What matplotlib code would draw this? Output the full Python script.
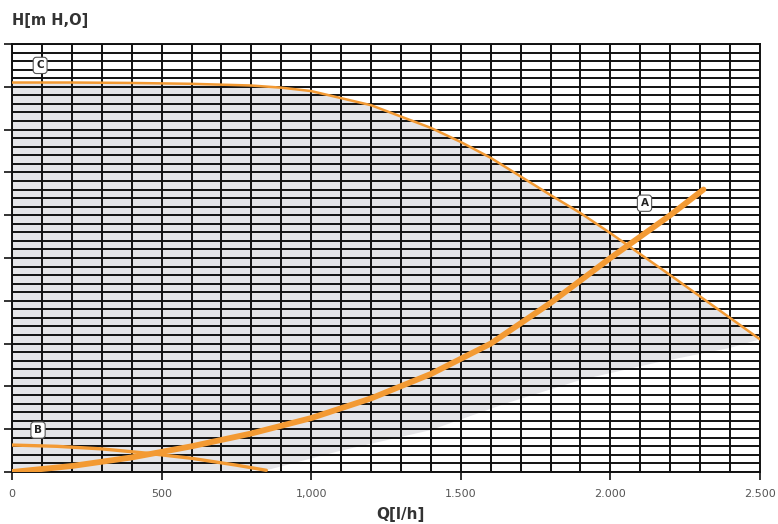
import matplotlib.pyplot as plt
import numpy as np

# curve C (max speed)
c_q = [0, 200, 400, 600, 800, 900, 1000, 1200, 1400, 1500, 1600, 1800, 1900, 2000, 2200, 2400, 2500]
c_h = [9.1, 9.1, 9.09, 9.07, 9.03, 8.98, 8.9, 8.57, 8.04, 7.71, 7.34, 6.47, 6.05, 5.58, 4.6, 3.6, 3.1]

# curve A (system curve)
a_q = [0, 200, 400, 600, 800, 1000, 1200, 1400, 1600, 1800, 2000, 2200, 2311]
a_h = [0, 0.14, 0.34, 0.6, 0.9, 1.26, 1.72, 2.29, 3.0, 3.95, 5.0, 6.0, 6.6]

# curve B (min speed)
b_q = [0, 150, 300, 450, 600, 750, 850]
b_h = [0.63, 0.6, 0.54, 0.44, 0.32, 0.16, 0.04]

# lower edge of the grey working area
low_q = [850, 1100, 1400, 1650, 1900, 2150, 2400, 2500]
low_h = [0.04, 0.5, 0.98, 1.6, 2.15, 2.55, 2.9, 3.1]

xticks = [0, 500, 1000, 1500, 2000, 2500]
xlabels = ["0", "500", "1,000", "1.500", "2.000", "2.500"]

orange = "#f39a33"

fig = plt.figure(figsize=(7.78, 5.24), dpi=100)
ax = fig.add_axes([12/778, 52/524, 748/778, 428/524])

# grey area: under C, above the lower edge
poly_q = [0] + low_q + c_q[::-1]
poly_h = [0] + low_h + c_h[::-1]
ax.fill(poly_q, poly_h, color="#e4e4e7", lw=0, zorder=0)

ax.set_xlim(0, 2500)
ax.set_ylim(0, 10)
ax.set_xticks(xticks)
ax.set_xticklabels(xlabels)
ax.set_xticks(np.arange(0, 2501, 100), minor=True)
ax.set_yticks(np.arange(0, 11, 1))
ax.set_yticklabels([])
ax.set_yticks(np.arange(0, 10.01, 0.2), minor=True)
ax.grid(which="both", color="#111111", lw=1.4, zorder=1)
ax.set_axisbelow(True)
ax.tick_params(which="major", direction="out", length=6, width=1.2, color="#111111",
               labelsize=8, labelcolor="#555555", pad=6)
ax.tick_params(which="minor", length=0)
for s in ax.spines.values():
    s.set_color("#111111")
    s.set_linewidth(1.4)

ax.plot(c_q, c_h, color=orange, lw=1.8, zorder=3, solid_capstyle="round")
ax.plot(b_q, b_h, color=orange, lw=2.4, zorder=3, solid_capstyle="round")
ax.plot(a_q, a_h, color=orange, lw=4.2, zorder=4, solid_capstyle="round")

box = dict(boxstyle="round,pad=0.3", fc="white", ec="#555555", lw=0.8)
for q, h, t in [(94, 9.5, "C"), (2114, 6.28, "A"), (87, 0.98, "B")]:
    ax.text(q, h, t, fontsize=7.5, fontweight="bold", color="#222222",
            ha="center", va="center", bbox=box, zorder=5)

fig.text(12/778, 1 - 20/524, "H[m H,O]", fontsize=10.5, fontweight="bold",
         color="#333333", ha="left", va="center")
fig.text(400/778, 1 - 514/524, "Q[l/h]", fontsize=11, fontweight="bold",
         color="#333333", ha="center", va="center")

fig.savefig("out.png", dpi=100)
